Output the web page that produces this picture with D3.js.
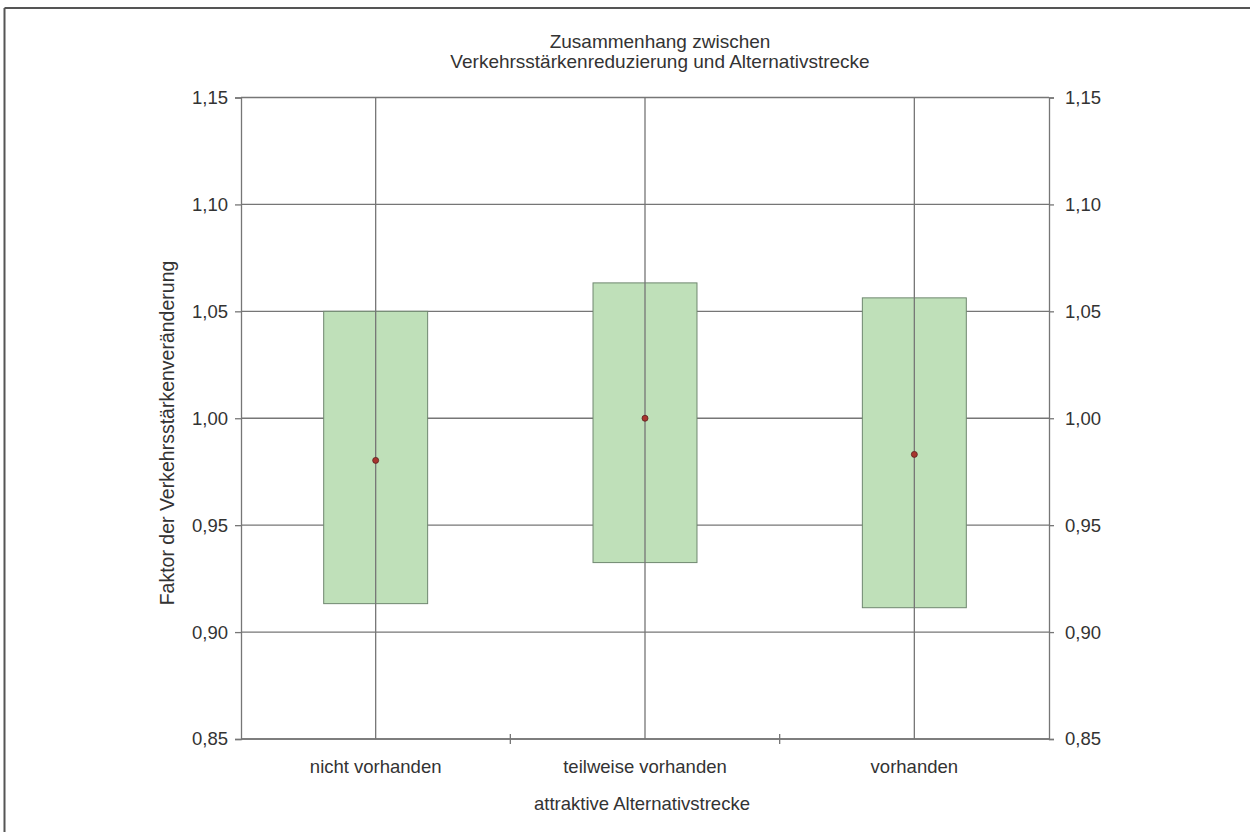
<!DOCTYPE html>
<html><head><meta charset="utf-8">
<script src="https://cdn.jsdelivr.net/npm/d3@7"></script>
<style>body{margin:0;background:#fff}svg{display:block}text{font-family:"Liberation Sans",Arial,sans-serif;fill:#333}</style>
</head><body>
<script>
const categories = ["nicht vorhanden", "teilweise vorhanden", "vorhanden"];
const boxLow  = [0.9133, 0.9325, 0.9114];
const boxHigh = [1.0500, 1.0633, 1.0563];
const means   = [0.9803, 1.0000, 0.9831];
const yTicks  = [0.85, 0.90, 0.95, 1.00, 1.05, 1.10, 1.15];
const title = ["Zusammenhang zwischen", "Verkehrsstärkenreduzierung und Alternativstrecke"];
const xTitle = "attraktive Alternativstrecke";
const yTitle = "Faktor der Verkehrsstärkenveränderung";

const W = 1250, H = 832;
const L = 241, R = 1049, T = 97.5, B = 739;
const FS = 18.5;
const LC = "#767676";
const svg = d3.select("body").append("svg").attr("width", W).attr("height", H);
svg.append("line").attr("x1",4.5).attr("x2",W).attr("y1",8).attr("y2",8).attr("stroke","#555").attr("stroke-width",2);
svg.append("line").attr("x1",4.5).attr("x2",4.5).attr("y1",8).attr("y2",H).attr("stroke","#555").attr("stroke-width",2);

const x = d3.scaleBand().domain(categories).range([L, R]);
const y = d3.scaleLinear().domain([0.85, 1.15]).range([B, T]);
const fmt = d => d3.format(".2f")(d).replace(".", ",");

// gridlines
svg.append("g").selectAll("line").data(yTicks).join("line")
  .attr("x1", L).attr("x2", R).attr("y1", d => y(d)).attr("y2", d => y(d))
  .attr("stroke", LC).attr("stroke-width", 1.3);

// boxes
svg.append("g").selectAll("rect").data(categories).join("rect")
  .attr("x", d => x(d) + x.bandwidth()*0.307)
  .attr("width", x.bandwidth()*0.386)
  .attr("y", (d,i) => y(boxHigh[i]))
  .attr("height", (d,i) => y(boxLow[i]) - y(boxHigh[i]))
  .attr("fill", "#bfe0b9").attr("stroke", "#6f876f").attr("stroke-width", 1);

// vertical category lines
svg.append("g").selectAll("line").data(categories).join("line")
  .attr("x1", d => x(d) + x.bandwidth()/2).attr("x2", d => x(d) + x.bandwidth()/2)
  .attr("y1", T).attr("y2", B).attr("stroke", LC).attr("stroke-width", 1.3);

// means
svg.append("g").selectAll("circle").data(categories).join("circle")
  .attr("cx", d => x(d) + x.bandwidth()/2).attr("cy", (d,i) => y(means[i]))
  .attr("r", 3).attr("fill", "#a8352e").attr("stroke", "#5a2020").attr("stroke-width", 0.8);

// axes
const yl = svg.append("g").attr("transform", `translate(${L},0)`)
  .call(d3.axisLeft(y).tickValues(yTicks).tickFormat(fmt).tickSize(6).tickPadding(7));
const yr = svg.append("g").attr("transform", `translate(${R},0)`)
  .call(d3.axisRight(y).tickValues(yTicks).tickFormat(fmt).tickSize(5).tickPadding(11));
const xb = svg.append("g").attr("transform", `translate(0,${B})`)
  .call(d3.axisBottom(x).tickSize(0).tickPadding(21));
[yl, yr, xb].forEach(g => {
  g.selectAll("path.domain").attr("stroke", LC).attr("stroke-width", 1.3);
  g.selectAll(".tick line").attr("stroke", LC).attr("stroke-width", 1.3);
  g.selectAll("text").attr("font-size", FS).attr("fill", "#333")
    .style("font-family", '"Liberation Sans", Arial, sans-serif');
});
xb.selectAll("path.domain").attr("d", `M${L},0H${R}`);
// category separator ticks
svg.append("g").selectAll("line").data(categories.slice(1)).join("line")
  .attr("x1", d => x(d)).attr("x2", d => x(d)).attr("y1", B - 5).attr("y2", B + 5)
  .attr("stroke", LC).attr("stroke-width", 1.3);

// titles
svg.append("g").selectAll("text").data(title).join("text")
  .attr("x", 660).attr("y", (d,i) => 48 + i*20).attr("text-anchor","middle").attr("font-size", 19).text(d => d);
svg.append("text").attr("x", (L+R)/2 - 3).attr("y", 810).attr("text-anchor","middle").attr("font-size", FS).text(xTitle);
svg.append("text").attr("transform", `translate(174,433) rotate(-90)`).attr("text-anchor","middle").attr("font-size", 19.5).text(yTitle);
</script>
</body></html>
